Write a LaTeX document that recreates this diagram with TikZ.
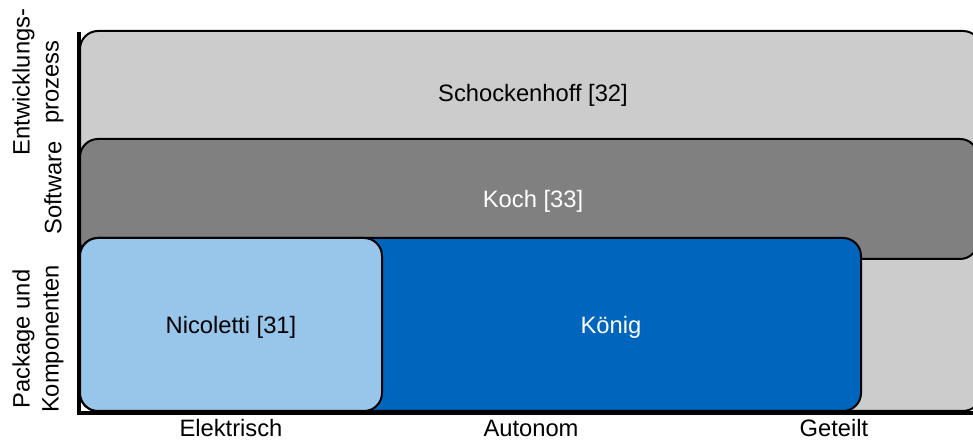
\documentclass[tikz,border=0pt]{standalone}
\usepackage{fontspec}
\setmainfont{Liberation Sans}
\usetikzlibrary{positioning}
\definecolor{tumblue}{RGB}{0,101,189}
\definecolor{tumlblue}{RGB}{152,198,234}
\definecolor{tumgray}{RGB}{204,204,204}
\definecolor{tumdgray}{RGB}{128,128,128}

\begin{document}
\begin{tikzpicture}[
  x=0.75pt, y=0.75pt,
  field/.style={draw, line width=1.5pt, rounded corners=13.5pt},
  lbl/.style={font=\fontsize{17.8}{21.8}\selectfont, inner sep=0pt},
  ylbl/.style={lbl, rotate=90, align=center},
  axis/.style={line width=2.5pt}]
\clip (0,0) rectangle (973,441);
% Felder, von hinten nach vorne
\draw[field, fill=tumgray]  (80,30) rectangle (981,410);
\draw[field, fill=tumdgray] (80,182) rectangle (978,302);
\draw[field, fill=tumblue]  (80,30) rectangle (861,203);
\draw[field, fill=tumlblue] (80,30) rectangle (382,203);
\node[lbl] (schock) at (533,346) {Schockenhoff [32]};
\node[lbl, text=white] (koch) at (533,240) {Koch [33]};
\node[lbl] (nico) at (231,114) {Nicoletti [31]};
\node[lbl, text=white] (koenig) at (611,114) {König};
% Achsen
\coordinate (origin) at (79,28);
\coordinate (ytop) at (79,409);
\coordinate (xend) at (975,28);
\draw[axis] (ytop) -- (origin) -- (xend);
% Beschriftung y
\node[ylbl] (entw) at (38,359) {Entwicklungs-\\prozess};
\node[ylbl] (soft) at (53,253) {Software};
\node[ylbl] (komp) at (38,102) {Package und\\Komponenten};
% Beschriftung x
\node[lbl, anchor=base] (elek) at (231,4.5) {Elektrisch};
\node[lbl, anchor=base] (auto) at (531,4) {Autonom};
\node[lbl, anchor=base] (geteilt) at (834,4.5) {Geteilt};
\end{tikzpicture}
\end{document}
